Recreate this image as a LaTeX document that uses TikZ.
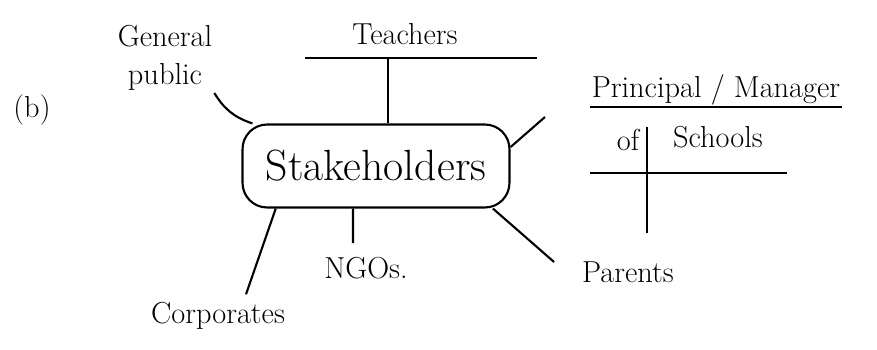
\documentclass[tikz,border=0pt]{standalone}
\usetikzlibrary{positioning}
\begin{document}
\begin{tikzpicture}[
  x=0.02cm, y=-0.02cm,
  every node/.style={inner sep=1pt, font=\LARGE},
  hub/.style={draw, line width=1.2pt, rounded corners=14pt, minimum width=5.34cm, minimum height=1.66cm, font=\Huge},
  link/.style={line width=1.2pt}
]
  \useasboundingbox (0,0) rectangle (877,349);
  % label of the part
  \node (part) at (32,110) {(b)};
  % centre
  \node[hub] (hub) at (376,166) {Stakeholders};
  % upper stakeholders
  \node[align=center] (public) at (165,58) {General\\public};
  \node (teachers) at (405,34) {Teachers};
  \coordinate (tl) at (305,58);
  \coordinate (tr) at (537,58);
  \coordinate (tm) at (388,58);
  \node (principal) at (716,90) {Principal / Manager};
  \node (of) at (628,140) {of};
  \node (schools) at (718,137) {Schools};
  \coordinate (pm) at (545,117);
  \coordinate (sl) at (590,173);
  \coordinate (sr) at (787,173);
  \coordinate (stem) at (647,233);
  % lower stakeholders
  \node (corp) at (218,316) {Corporates};
  \node (ngos) at (366,268) {NGOs.};
  \node (parents) at (628,272) {Parents};
  % connectors
  \draw[link] (tl) -- (tr);
  \draw[link] (tm) -- (tm |- hub.north);
  \draw[link] (public.south east) to[bend right=20] (hub.161);
  \draw[link] (hub.8) -- (pm);
  \draw[link] (principal.south west) -- (principal.south east);
  \draw[link] (sl) -- (sr);
  \draw[link] (of.north east -| stem) -- (stem);
  \draw[link] (hub.203) -- ([shift={(28,-6)}]corp.north);
  \draw[link] ([xshift=-0.46cm]hub.south) -- ([shift={(-13,-12)}]ngos.north);
  \draw[link] (hub.-20) -- ([shift={(-26,-10)}]parents.west);
\end{tikzpicture}
\end{document}
